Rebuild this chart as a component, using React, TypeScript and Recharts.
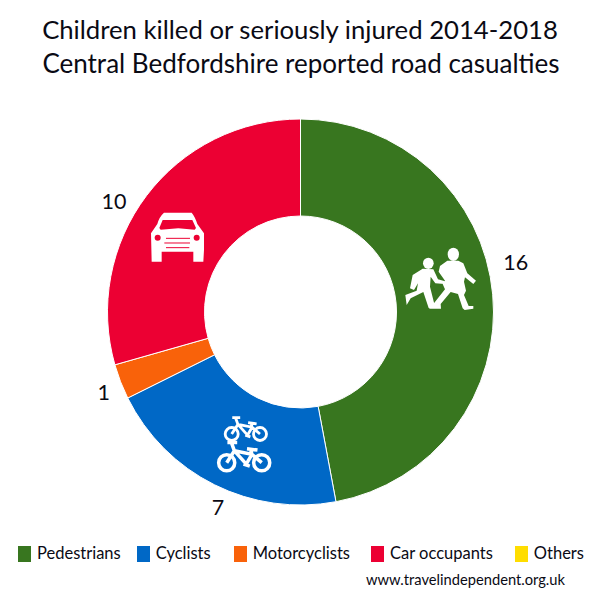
import { Legend, Pie, PieChart, Cell } from "recharts";

const categories = ["Pedestrians", "Cyclists", "Motorcyclists", "Car occupants", "Others"];
const casualties = [16, 7, 1, 10, 0];
const colors = ["#38761f", "#0068c6", "#f9620a", "#ec0033", "#ffdd00"];
const titleLines = ["Children killed or seriously injured 2014-2018", "Central Bedfordshire reported road casualties"];
const sourceText = "www.travelindependent.org.uk";

const FONT = "Lato, 'Open Sans', sans-serif";
const INK = "#0a0a14";

const data = categories.map((name, i) => ({ name, value: casualties[i], fill: colors[i] }));

// labels were moved by hand in the original, so each one sits a bit off its slice's middle
const labelAngleShift = [7.8, 3.6, 1, 6.3];
const labelGap = [28, 19, 19.5, 24];
const legendGaps = [0, 16, 23, 21, 22];

function renderLabel(props: any) {
  const { cx, cy, midAngle, outerRadius, index, value } = props;
  if (!value) return null;
  const angle = ((midAngle + labelAngleShift[index]) * Math.PI) / 180;
  const r = outerRadius + labelGap[index];
  return (
    <text
      x={cx + r * Math.cos(angle)}
      y={cy - r * Math.sin(angle)}
      textAnchor="middle"
      dominantBaseline="central"
      fontFamily={FONT}
      fontSize={21.5}
      fill={INK}
    >
      {value}
    </text>
  );
}

function renderLegend() {
  return (
    <div style={{ display: "flex", fontFamily: FONT, fontSize: 16.5, color: INK, lineHeight: "14px" }}>
      {data.map((d, i) => (
        <div key={d.name} style={{ display: "flex", alignItems: "flex-start", marginLeft: legendGaps[i] }}>
          <span style={{ width: 13, height: 16, background: d.fill, marginRight: 6 }} />
          <span style={{ whiteSpace: "nowrap" }}>{d.name}</span>
        </div>
      ))}
    </div>
  );
}

function ChildrenIcon() {
  return (
    <g transform="translate(390 230) scale(0.3333)" fill="#fff">
      <ellipse cx="190" cy="73" rx="17" ry="20" />
      <ellipse cx="115" cy="100" rx="16" ry="17" />
      <path d="M172 92 L205 92 L220 100 L232 130 L258 152 L250 162 L225 142 L222 155 L228 182 L222 195 L236 228 L250 228 L250 236 L224 240 L218 235 L204 192 L182 186 L152 222 L153 236 L118 236 L118 222 L130 222 L165 178 L158 162 L165 152 L146 125 L150 108 Z" />
      <path d="M98 116 L130 118 L144 148 L165 154 L163 162 L136 160 L122 140 L120 170 L136 234 L116 234 L100 186 L62 205 L50 225 L46 195 L80 182 L84 160 L72 180 L60 175 L68 135 Z" />
    </g>
  );
}

function CarIcon() {
  return (
    <g transform="translate(140 200) scale(0.3333)">
      <path
        fill="#fff"
        fillRule="evenodd"
        d="M72 38 L155 38 Q165 50 172 72 L192 100 L192 150 L190 185 L160 185 L160 155 L65 155 L65 185 L35 185 L33 100 L52 72 Q58 50 72 38 Z M58 84 L68 60 L157 60 L168 84 L164 89 L115 85 L62 89 Z"
      />
      <circle cx="53" cy="113" r="9" fill="#ec0033" />
      <circle cx="170" cy="113" r="9" fill="#ec0033" />
      <path d="M78 115 H150 M73 129 H150 M78 143 H148" stroke="#ec0033" strokeWidth={3} />
    </g>
  );
}

function Bike({ x, y, k }: { x: number; y: number; k: number }) {
  return (
    <g transform={`translate(${x} ${y}) scale(${k})`} fill="none" stroke="#fff" strokeWidth={10}>
      <circle cx={0} cy={0} r={23} />
      <circle cx={100} cy={0} r={23} />
      <path d="M0 0 L22 -34 L72 -24 L100 0 M22 -34 L56 4 L72 -24 M68 -38 L72 -24 M58 -40 L88 -36 M14 -56 L22 -34 M2 -58 L30 -58 M48 4 L66 10" />
    </g>
  );
}

function BikesIcon() {
  return (
    <g>
      <Bike x={231.7} y={434} k={0.283} />
      <Bike x={226.7} y={462.7} k={0.35} />
    </g>
  );
}

export default function App() {
  return (
    <div style={{ position: "absolute", left: 0, top: 0, width: 600, height: 600, background: "#fff" }}>
      <PieChart width={600} height={600} margin={{ top: 0, right: 0, bottom: 0, left: 0 }}>
        <text x={300} y={39} textAnchor="middle" fontFamily={FONT} fontSize={25.7} fill={INK}>
          {titleLines[0]}
        </text>
        <text x={301} y={73} textAnchor="middle" fontFamily={FONT} fontSize={26} fill={INK}>
          {titleLines[1]}
        </text>
        <Pie
          data={data}
          dataKey="value"
          nameKey="name"
          cx={300.5}
          cy={312}
          outerRadius={193}
          innerRadius={96}
          startAngle={90}
          endAngle={-270}
          stroke="#fff"
          strokeWidth={1}
          label={renderLabel}
          labelLine={false}
          isAnimationActive={false}
        >
          {data.map((d) => (
            <Cell key={d.name} fill={d.fill} />
          ))}
        </Pie>
        <Legend
          content={renderLegend}
          layout="horizontal"
          verticalAlign="bottom"
          align="left"
          wrapperStyle={{ left: 18, top: 546, bottom: "auto", width: 582 }}
        />
        <text x={565} y={585} textAnchor="end" fontFamily={FONT} fontSize={14.7} fill={INK}>
          {sourceText}
        </text>
      </PieChart>
      {/* icons sit in their own layer, the pie paints over anything drawn inside the chart */}
      <svg width={600} height={600} style={{ position: "absolute", left: 0, top: 0, pointerEvents: "none" }}>
        <ChildrenIcon />
        <CarIcon />
        <BikesIcon />
      </svg>
    </div>
  );
}
